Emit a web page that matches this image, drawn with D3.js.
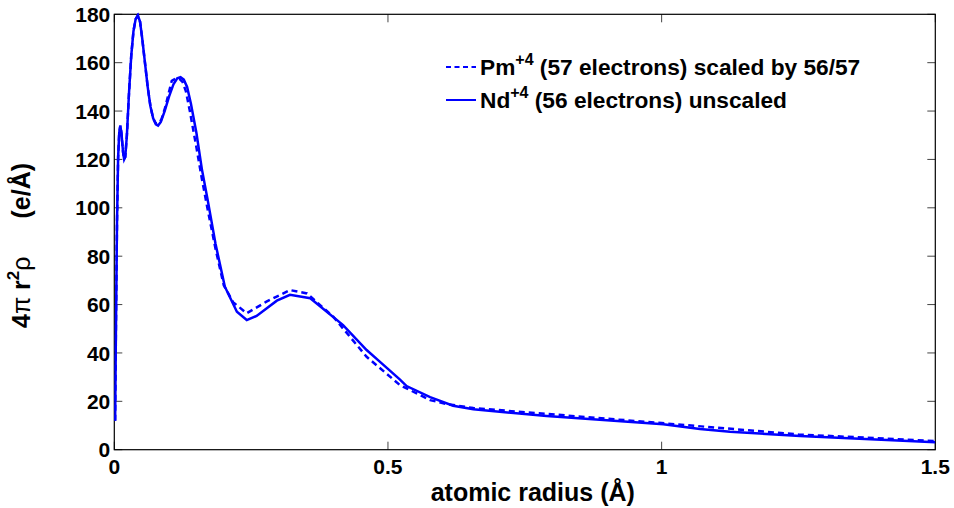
<!DOCTYPE html>
<html><head><meta charset="utf-8">
<script src="https://cdn.jsdelivr.net/npm/d3@7"></script>
<style>body{margin:0;background:#fff}svg{display:block}text{font-family:"Liberation Sans",Arial,sans-serif;font-weight:bold;fill:#000}</style>
</head><body><svg id="c" width="954" height="508"></svg>
<script>
const ndX = [0.0015,0.003,0.005,0.007,0.009,0.011,0.013,0.016,0.018,0.020,0.023,0.027,0.031,0.035,0.039,0.043,0.047,0.051,0.056,0.061,0.066,0.071,0.076,0.080,0.085,0.092,0.100,0.108,0.115,0.121,0.127,0.133,0.140,0.150,0.160,0.170,0.185,0.202,0.224,0.242,0.260,0.297,0.321,0.358,0.418,0.461,0.485,0.522,0.534,0.577,0.619,0.656,0.790,1.003,1.070,1.125,1.253,1.500];
const ndY = [12,50,95,121,131,134,131,123,120,121,130,148,163,173,178,179.5,177,170,160,150,142,137,134.5,134,135.5,140,146,151,153.5,154,153,150,143,131,116,104,85,67.4,57,53.6,55.3,61.6,64,62.6,51.5,41.2,36.4,29,26.3,21.7,18.2,16.7,13.9,10.5,8.6,7.4,5.7,3.1];
const pmX = [0.0015,0.003,0.005,0.007,0.009,0.011,0.013,0.016,0.018,0.020,0.023,0.027,0.031,0.035,0.039,0.043,0.047,0.051,0.056,0.061,0.066,0.071,0.076,0.081,0.086,0.093,0.100,0.105,0.113,0.119,0.125,0.131,0.138,0.150,0.160,0.170,0.185,0.200,0.217,0.242,0.278,0.321,0.352,0.400,0.461,0.522,0.577,0.607,0.656,0.790,1.000,1.250,1.500];
const pmY = [12,50,95,121,131,134,131,123,120,121,130,148,163,173,178,179.5,177,170,160,150,142,137,134.8,135,136.5,141.5,148,152.5,153.5,153.3,152,148,140,125,112,100,83,68,61,56.4,61.2,66,64.6,55,38.4,26.7,20.5,18.9,17.2,14.8,11,6.3,3.6];
const xTicks = [0,0.5,1,1.5];
const xTickLabels = ["0","0.5","1","1.5"];
const yTicks = [0,20,40,60,80,100,120,140,160,180];
const legendLabels = [["Pm","+4"," (57 electrons) scaled by 56/57"],["Nd","+4"," (56 electrons) unscaled"]];

const svg = d3.select("#c");
const L=114.3,R=935.3,T=14.3,B=449.7;
const x = d3.scaleLinear().domain([0,1.5]).range([L,R]);
const y = d3.scaleLinear().domain([0,180]).range([B,T]);
const fs = 21;

// ticks (inward) on all four sides
const tl = 8;
const tg = svg.append("g").attr("stroke","#444").attr("stroke-width",1);
xTicks.forEach(v=>{
  tg.append("line").attr("x1",x(v)).attr("x2",x(v)).attr("y1",B).attr("y2",B-tl);
  tg.append("line").attr("x1",x(v)).attr("x2",x(v)).attr("y1",T).attr("y2",T+tl);
});
yTicks.forEach(v=>{
  tg.append("line").attr("x1",L).attr("x2",L+tl).attr("y1",y(v)).attr("y2",y(v));
  tg.append("line").attr("x1",R).attr("x2",R-tl).attr("y1",y(v)).attr("y2",y(v));
});
svg.append("rect").attr("x",L).attr("y",T).attr("width",R-L).attr("height",B-T)
  .attr("fill","none").attr("stroke","#000").attr("stroke-width",1.2);

xTicks.forEach((v,i)=>{
  svg.append("text").attr("x",x(v)).attr("y",B+24).attr("text-anchor","middle")
    .attr("font-size",fs).text(xTickLabels[i]);
});
yTicks.forEach(v=>{
  svg.append("text").attr("x",L-4).attr("y",y(v)).attr("dy","0.36em").attr("text-anchor","end")
    .attr("font-size",fs).text(v);
});

// axis labels
const lfs = 25;
svg.append("text").attr("x",(L+R)/2 + 8).attr("y",501).attr("text-anchor","middle")
  .attr("font-size",lfs).text("atomic radius (Å)");
const yl = svg.append("text").attr("transform","translate(30,328) rotate(-90)")
  .attr("text-anchor","start").attr("font-size",lfs);
yl.append("tspan").text("4");
yl.append("tspan").attr("font-weight","normal").text("π");
yl.append("tspan").text(" r");
yl.append("tspan").attr("font-size",17).attr("dy",-11).text("2");
yl.append("tspan").attr("font-weight","normal").attr("dy",11).text("ρ");
yl.append("tspan").attr("dx",38).text("(e/Å)");

// lines
const line = d3.line().x(d=>x(d[0])).y(d=>y(d[1]));
svg.append("clipPath").attr("id","cp").append("rect").attr("x",L).attr("y",T-2).attr("width",R-L).attr("height",B-T+2);
const pm = pmX.map((v,i)=>[v,pmY[i]]);
const nd = ndX.map((v,i)=>[v,ndY[i]]);
svg.append("path").attr("d",line(pm)).attr("fill","none").attr("stroke","#0000ff")
  .attr("stroke-width",2.5).attr("stroke-dasharray","6,4").attr("clip-path","url(#cp)");
svg.append("path").attr("d",line(nd)).attr("fill","none").attr("stroke","#0000ff")
  .attr("stroke-width",2.5).attr("clip-path","url(#cp)");

// legend
const gfs = 22.7;
const ly = [75,108];
legendLabels.forEach((lab,i)=>{
  const yy = ly[i];
  svg.append("line").attr("x1",446).attr("x2",476).attr("y1",yy-8).attr("y2",yy-8)
    .attr("stroke","#0000ff").attr("stroke-width",2).attr("stroke-dasharray",i===0?"5,3.5":null);
  const t = svg.append("text").attr("x",480).attr("y",yy).attr("font-size",gfs);
  t.append("tspan").text(lab[0]);
  t.append("tspan").attr("font-size",16).attr("dy",-10).text(lab[1]);
  t.append("tspan").attr("dy",10).text(lab[2]);
});
</script></body></html>
